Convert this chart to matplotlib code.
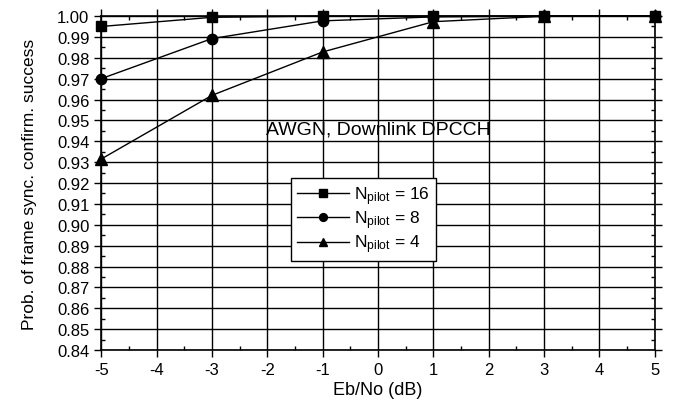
import numpy as np
import matplotlib
matplotlib.use('Agg')
from matplotlib import pyplot as plt
from matplotlib.ticker import MultipleLocator

plt.rcParams['font.family'] = ['Liberation Sans', 'DejaVu Sans']
plt.rcParams['mathtext.fontset'] = 'custom'
plt.rcParams['mathtext.rm'] = 'Liberation Sans'
plt.rcParams['mathtext.it'] = 'Liberation Sans:italic'

# 數據
ebno = [-5, -3, -1, 1, 3, 5]
p_n16 = [0.9950, 0.9994, 1.0000, 1.0000, 1.0000, 1.0000]
p_n8 = [0.9700, 0.9892, 0.9977, 0.9996, 1.0000, 1.0000]
p_n4 = [0.9315, 0.9620, 0.9828, 0.9973, 0.9999, 1.0000]
labels = [r'N$_{\mathrm{pilot}}$ = 16', r'N$_{\mathrm{pilot}}$ = 8', r'N$_{\mathrm{pilot}}$ = 4']

fig = plt.figure(figsize=(6.75, 4.06), dpi=100)
ax = fig.add_axes([0.150, 0.1355, 0.820, 0.8225])

ax.plot(ebno, p_n16, 'k-', marker='s', ms=7.5, lw=1, label=labels[0], clip_on=False, zorder=5)
ax.plot(ebno, p_n8, 'k-', marker='o', ms=7.5, lw=1, label=labels[1], clip_on=False, zorder=5)
ax.plot(ebno, p_n4, 'k-', marker='^', ms=8, lw=1, label=labels[2], clip_on=False, zorder=5)

ax.set_xlim(-5, 5)
ax.set_ylim(0.84, 1.00)
ax.xaxis.set_major_locator(MultipleLocator(1))
ax.xaxis.set_minor_locator(MultipleLocator(0.5))
ax.yaxis.set_major_locator(MultipleLocator(0.01))
ax.yaxis.set_minor_locator(MultipleLocator(0.005))
ax.set_yticklabels([f'{v:.2f}' for v in ax.get_yticks()])
ax.set_xticklabels([f'{int(round(v))}' for v in ax.get_xticks()])

ax.grid(True, which='major', color='black', lw=1)
ax.tick_params(which='major', direction='out', length=5, width=1, labelsize=12, colors='black')
ax.tick_params(which='minor', direction='in', length=3, width=1)
ax.tick_params(which='both', top=True, right=True)
for s in ax.spines.values():
    s.set_linewidth(1.2)

ax.set_xlabel('Eb/No (dB)', fontsize=13, labelpad=3)
ax.set_ylabel('Prob. of frame sync. confirm. success', fontsize=12.5, labelpad=14)

ax.text(0.0, 0.946, 'AWGN, Downlink DPCCH', ha='center', va='center', fontsize=14)

leg = ax.legend(loc='upper left', bbox_to_anchor=(0.343, 0.515), fontsize=12.5,
                handlelength=3.0, frameon=True, fancybox=False, framealpha=1,
                edgecolor='black', borderpad=0.35, labelspacing=0.1, handletextpad=0.3,
                borderaxespad=0, markerscale=0.75)
leg.get_frame().set_linewidth(1)
leg.set_zorder(10)

fig.savefig('out.png', dpi=100)
